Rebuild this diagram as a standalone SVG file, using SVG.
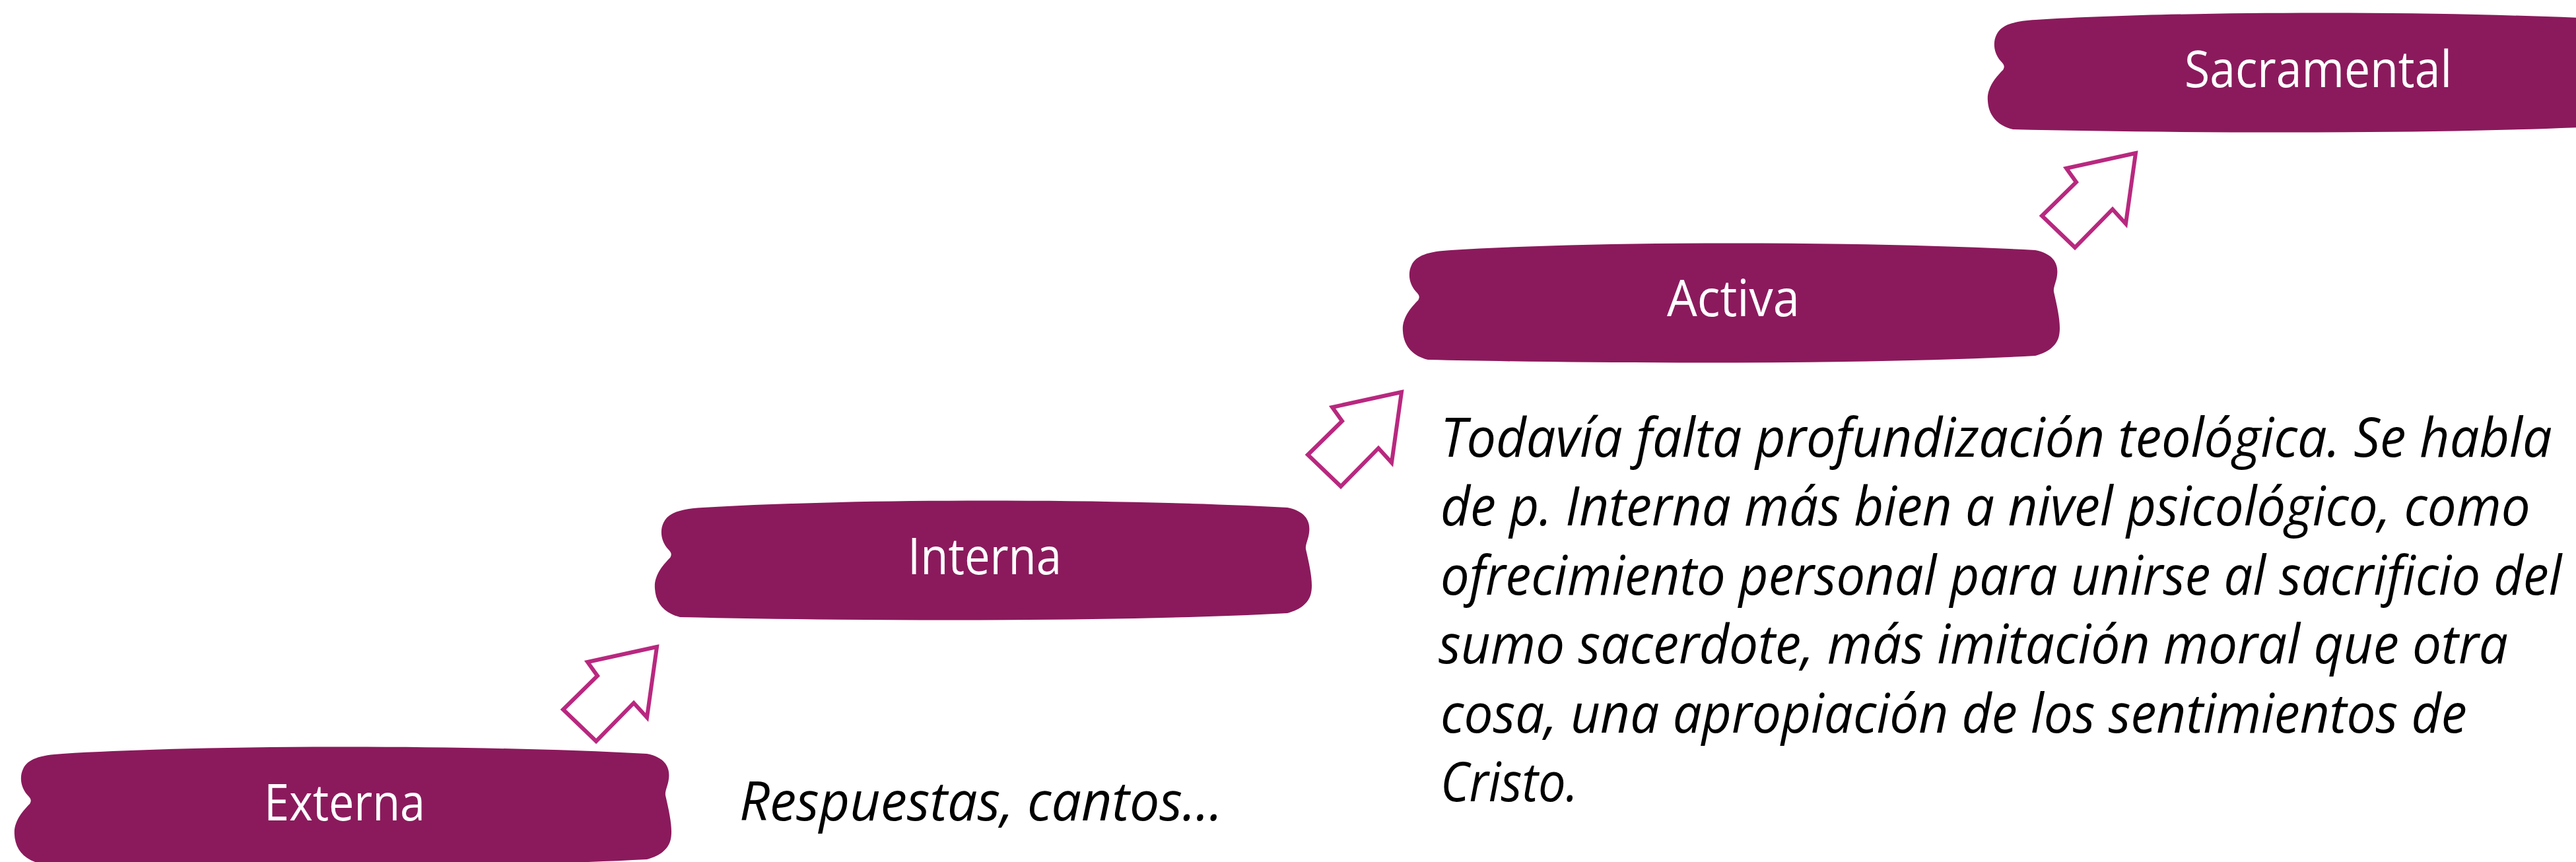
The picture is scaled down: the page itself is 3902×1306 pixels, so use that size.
<svg xmlns="http://www.w3.org/2000/svg" xmlns:xlink="http://www.w3.org/1999/xlink" width="3902" height="1306" viewBox="0 0 3902 1306">
<style>
.blob{fill:#8B1A5C}
.lbl{fill:#ffffff;font-family:"Open Sans","Noto Sans","Liberation Sans",sans-serif;font-size:76px}
.txt{fill:#000000;font-family:"Open Sans","Noto Sans","Liberation Sans",sans-serif;font-size:82px;font-style:italic}
.arr{fill:#ffffff;stroke:#B8287F;stroke-width:6;stroke-linejoin:miter}
</style>
<defs>
<path id="blob" d="M75,12 C300,-2 700,-2 960,12 C990,18 995,35 993,50 C992,60 987,68 988,75 C995,105 1000,130 995,145 C990,160 975,168 960,172 C700,186 300,184 40,178 C15,172 3,155 2,135 C0,115 15,98 25,88 C28,83 27,80 22,75 C10,62 10,45 15,35 C22,20 40,14 75,12 Z"/>
<path id="arrow" d="M995,980 L890,1003 L905,1024 L853,1075 L903,1123 L960,1065 L980,1087 Z"/>
</defs>
<g id="connectors">
<use xlink:href="#arrow" class="arr"/>
<use xlink:href="#arrow" class="arr" transform="translate(1128,-386)"/>
<use xlink:href="#arrow" class="arr" transform="translate(2240,-748)"/>
</g>
<g id="node-externa">
<use xlink:href="#blob" class="blob" transform="translate(20,1130)"/>
<text class="lbl" x="400" y="1243" textLength="244" lengthAdjust="spacingAndGlyphs">Externa</text>
</g>
<g id="node-interna">
<use xlink:href="#blob" class="blob" transform="translate(990,757)"/>
<text class="lbl" x="1375" y="870" textLength="233" lengthAdjust="spacingAndGlyphs">Interna</text>
</g>
<g id="node-activa">
<use xlink:href="#blob" class="blob" transform="translate(2123,367)"/>
<text class="lbl" x="2525" y="479" textLength="201" lengthAdjust="spacingAndGlyphs">Activa</text>
</g>
<g id="node-sacramental">
<use xlink:href="#blob" class="blob" transform="translate(3009,18)"/>
<text class="lbl" x="3309" y="132" textLength="405" lengthAdjust="spacingAndGlyphs">Sacramental</text>
</g>
<g id="note-externa">
<text class="txt" transform="translate(1120,1243) scale(0.85,1)" x="0" y="0" textLength="861" lengthAdjust="spacingAndGlyphs">Respuestas, cantos…</text>
</g>
<g id="note-interna">
<text class="txt" transform="translate(2182,692) scale(0.85,1)" x="0" y="0" textLength="1981" lengthAdjust="spacingAndGlyphs">Todavía falta profundización teológica. Se habla</text>
<text class="txt" transform="translate(2182,796) scale(0.85,1)" x="0" y="0" textLength="1942" lengthAdjust="spacingAndGlyphs">de p. Interna más bien a nivel psicológico, como</text>
<text class="txt" transform="translate(2182,901) scale(0.85,1)" x="0" y="0" textLength="1998" lengthAdjust="spacingAndGlyphs">ofrecimiento personal para unirse al sacrificio del</text>
<text class="txt" transform="translate(2179,1005) scale(0.85,1)" x="0" y="0" textLength="1906" lengthAdjust="spacingAndGlyphs">sumo sacerdote, más imitación moral que otra</text>
<text class="txt" transform="translate(2182,1110) scale(0.85,1)" x="0" y="0" textLength="1829" lengthAdjust="spacingAndGlyphs">cosa, una apropiación de los sentimientos de</text>
<text class="txt" transform="translate(2182,1214) scale(0.85,1)" x="0" y="0" textLength="245" lengthAdjust="spacingAndGlyphs">Cristo.</text>
</g>
</svg>
